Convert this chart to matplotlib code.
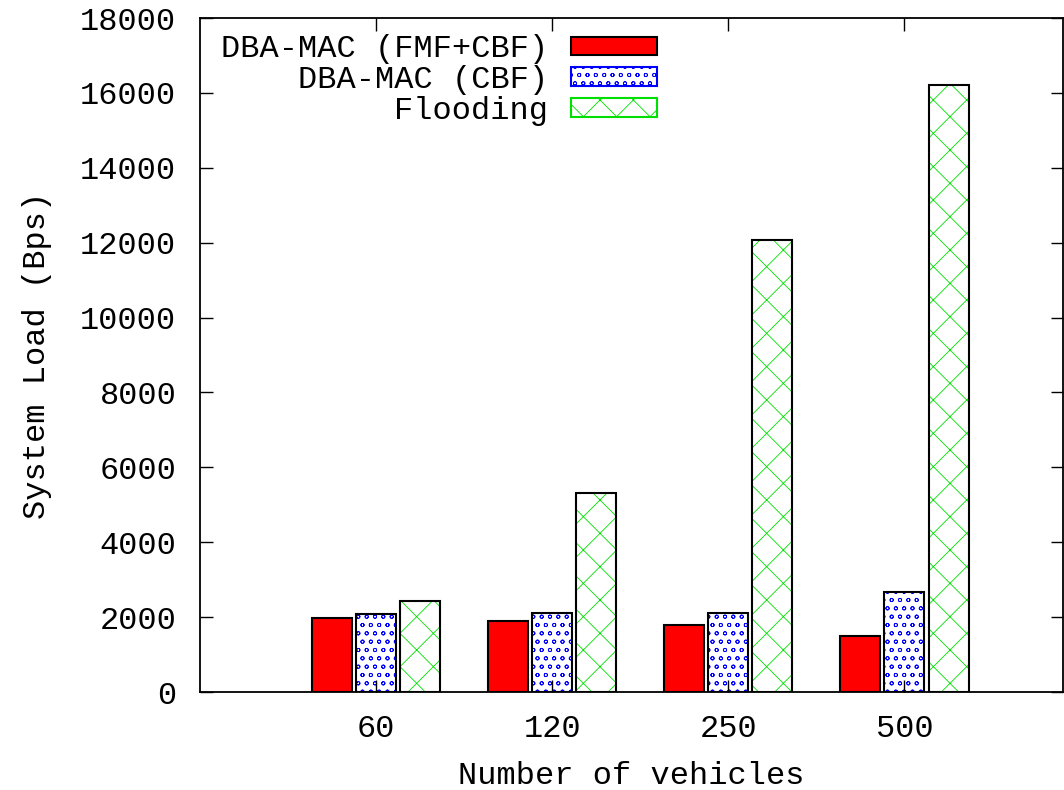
import numpy as np
import matplotlib.pyplot as plt
from matplotlib.patches import Patch

# system load per scheme, by number of vehicles
vehicles = ["60", "120", "250", "500"]
fmf_cbf = [1970, 1890, 1780, 1490]
cbf = [2085, 2100, 2110, 2680]
flooding = [2430, 5320, 12070, 16210]

plt.rcParams['font.family'] = ['Liberation Mono', 'DejaVu Sans Mono']
plt.rcParams['font.size'] = 23
plt.rcParams['hatch.linewidth'] = 0.6

fig = plt.figure(figsize=(10.64, 7.9), dpi=100)
ax = fig.add_axes([200/1064, 98/790, 863/1064, 674/790])

x = np.arange(len(vehicles))
w = 0.227
ax.bar(x - 0.25, fmf_cbf, w, color='red', edgecolor='black', linewidth=1.5,
       label='DBA-MAC (FMF+CBF)')
ax.bar(x, cbf, w, color='white', edgecolor='black', linewidth=1.5,
       label='DBA-MAC (CBF)', hatch='oo')
ax.bar(x + 0.25, flooding, w, color='white', edgecolor='black', linewidth=1.5,
       label='Flooding', hatch='x')

# hatch colours follow the patch edge colour, so set them per bar
for cont, hc in zip(ax.containers[1:], ['blue', '#00e000']):
    for p in cont:
        p.set_edgecolor(hc)
        p.set_linewidth(0)
        ax.add_patch(plt.Rectangle(p.get_xy(), p.get_width(), p.get_height(),
                                   fill=False, edgecolor='black', linewidth=1.5))

ax.set_xlim(-1, 3.9)
ax.set_ylim(0, 18000)
ax.set_xticks(x)
ax.set_xticklabels(vehicles)
ax.set_yticks(np.arange(0, 18001, 2000))
ax.tick_params(direction='in', top=True, right=True, length=9, width=1)
ax.tick_params(axis='y', pad=17)
ax.tick_params(axis='x', pad=16)
for s in ax.spines.values():
    s.set_linewidth(1.3)

ax.set_xlabel('Number of vehicles', labelpad=12)
ax.set_ylabel('System Load (Bps)', labelpad=20)

# legend handles: framed boxes with the fill pattern inside
handles = [Patch(facecolor='red', edgecolor='black', linewidth=1.5),
           Patch(facecolor='white', edgecolor='blue', hatch='oo', linewidth=1.5),
           Patch(facecolor='white', edgecolor='#00e000', hatch='x', linewidth=1.5)]
labels = ['DBA-MAC (FMF+CBF)', 'DBA-MAC (CBF)', 'Flooding']
leg = ax.legend(handles, labels, loc='upper left', bbox_to_anchor=(0.006, 1.0),
                markerfirst=False, frameon=False, handlelength=2.7,
                handleheight=0.5, handletextpad=0.7, labelspacing=0.03,
                borderaxespad=0.2, borderpad=0.3)

fig.savefig('out.png', dpi=100)
